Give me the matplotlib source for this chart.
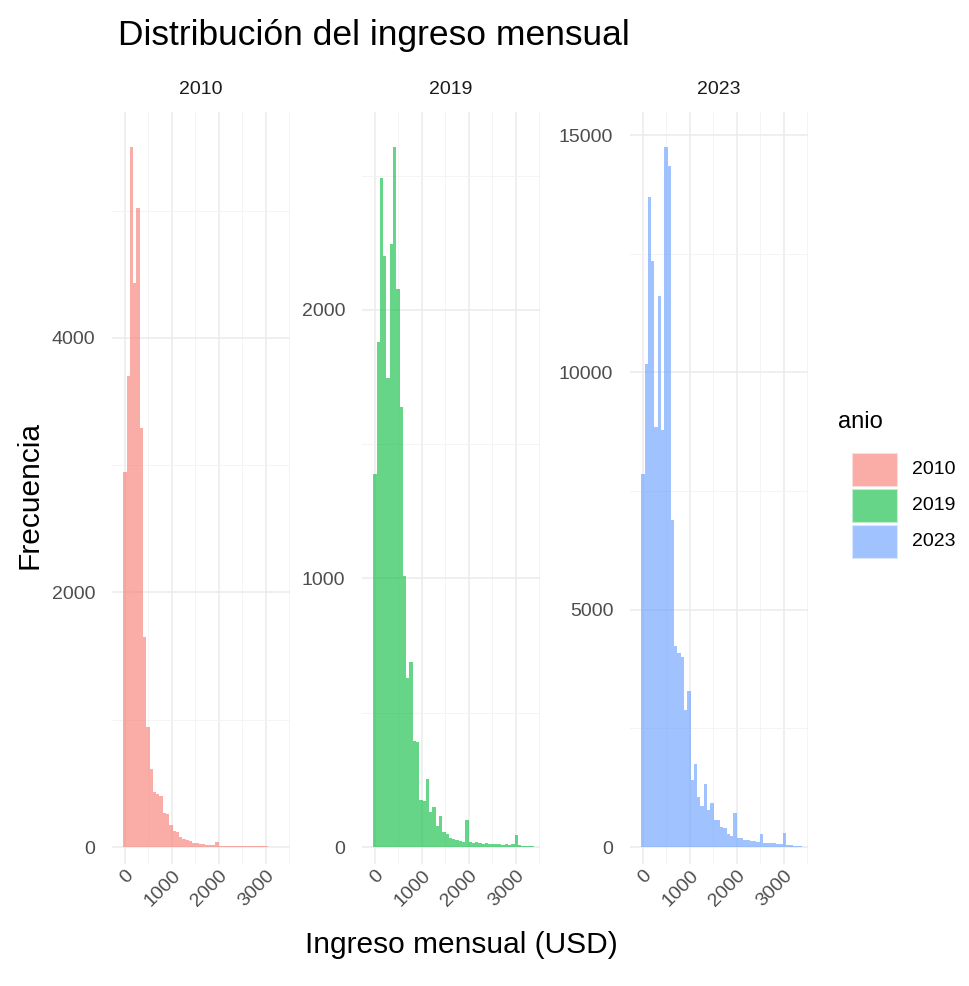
import numpy as np
import matplotlib
matplotlib.use("Agg")
import matplotlib.pyplot as plt
from matplotlib.patches import Rectangle

plt.rcParams['font.family'] = ['Liberation Sans', 'DejaVu Sans']

# ---- data ----
years = ["2010", "2019", "2023"]
colors = ["#F8766D", "#00BA38", "#619CFF"]
bin_start = -30
bin_width = 70
counts_2010 = [2950, 3700, 5500, 4430, 5020, 3290, 1650, 940, 610, 430,
               420, 400, 270, 260, 170, 125, 115, 75, 65, 55,
               45, 35, 30, 25, 22, 18, 15, 12, 40, 10,
               9, 8, 7, 7, 6, 6, 8, 5, 5, 4,
               5, 4, 4, 10, 3, 3, 2, 2, 1]
counts_2019 = [1390, 1880, 2490, 2200, 1745, 2245, 2607, 2078, 1640, 1010,
               630, 690, 395, 390, 175, 170, 255, 130, 150, 80,
               115, 55, 50, 35, 30, 25, 22, 20, 100, 18,
               15, 18, 14, 12, 15, 12, 10, 10, 12, 8,
               10, 8, 12, 45, 8, 5, 4, 3, 2]
counts_2023 = [7870, 10170, 13690, 12340, 8860, 11600, 8780, 14750, 14350, 6900,
               4240, 4090, 4010, 2890, 3290, 1410, 1750, 1060, 870, 1320,
               780, 930, 570, 560, 420, 400, 280, 240, 710, 200,
               190, 150, 140, 130, 120, 110, 280, 90, 85, 80,
               90, 70, 60, 290, 50, 40, 30, 20, 15]
all_counts = [counts_2010, counts_2019, counts_2023]
y_major = [[0, 2000, 4000], [0, 1000, 2000], [0, 5000, 10000, 15000]]
y_minor = [[1000, 3000, 5000], [500, 1500, 2500], [2500, 7500, 12500]]
x_major = [0, 1000, 2000, 3000]
x_minor = [500, 1500, 2500, 3500]

W, H = 970, 986
fig = plt.figure(figsize=(W / 100, H / 100), dpi=100)

panels_px = [(112, 290), (362, 540), (630, 808)]
top_px, base_px, bot_px = 112, 847, 864
xlim = (-270, 3520)

for i, (l, r) in enumerate(panels_px):
    ax = fig.add_axes([l / W, 1 - bot_px / H, (r - l) / W, (bot_px - top_px) / H])
    counts = np.array(all_counts[i], dtype=float)
    n = len(counts)
    edges = bin_start + bin_width * np.arange(n + 1)
    ax.bar(edges[:-1], counts, width=bin_width, align='edge',
           color=colors[i], alpha=0.6, linewidth=0, zorder=3)
    ymax = counts.max()
    top = 1.05 * ymax
    low = -top * (bot_px - base_px) / (base_px - top_px)
    ax.set_ylim(low, top)
    ax.set_xlim(*xlim)
    ax.set_xticks(x_major)
    ax.set_xticks(x_minor, minor=True)
    ax.set_yticks(y_major[i])
    ax.set_yticks(y_minor[i], minor=True)
    ax.grid(True, which='major', color='#EBEBEB', linewidth=1.1, zorder=0)
    ax.grid(True, which='minor', color='#F3F3F3', linewidth=0.6, zorder=0)
    for s in ax.spines.values():
        s.set_visible(False)
    ax.tick_params(which='both', length=0)
    ax.tick_params(axis='y', labelsize=14, labelcolor='#4D4D4D', pad=12)
    ax.tick_params(axis='x', labelsize=14, labelcolor='#4D4D4D', pad=2)
    ax.set_yticklabels([str(v) for v in y_major[i]])
    ax.set_xticklabels([str(v) for v in x_major], rotation=45,
                       ha='right', va='top', rotation_mode='anchor')
    ax.set_facecolor('none')
    ax.text(0.5, 1 + 22 / (bot_px - top_px), years[i], transform=ax.transAxes,
            ha='center', va='center', fontsize=14, color='#1A1A1A')

fig.text(118 / W, 1 - 35 / H, "Distribución del ingreso mensual", ha='left', va='center',
         fontsize=25.5, color='black')
fig.text(30 / W, 1 - 495 / H, "Frecuencia", rotation=90, ha='center', va='center',
         fontsize=21.5, color='black')
fig.text(461 / W, 1 - 945 / H, "Ingreso mensual (USD)", ha='center', va='center',
         fontsize=21.5, color='black')

# legend
fig.text(838 / W, 1 - 422 / H, "anio", ha='left', va='center', fontsize=17, color='black')
key_x, key_w, key_h = 852, 46, 34
for j, (yr, c) in enumerate(zip(years, colors)):
    yc = 470 + j * 36
    fig.patches.append(Rectangle((key_x / W, 1 - (yc + key_h / 2) / H), key_w / W, key_h / H,
                                 transform=fig.transFigure, facecolor=c, alpha=0.6,
                                 edgecolor='white', linewidth=1.5))
    fig.text(912 / W, 1 - yc / H, yr, ha='left', va='center', fontsize=14, color='black')

fig.savefig("out.png", dpi=100, facecolor='white')
